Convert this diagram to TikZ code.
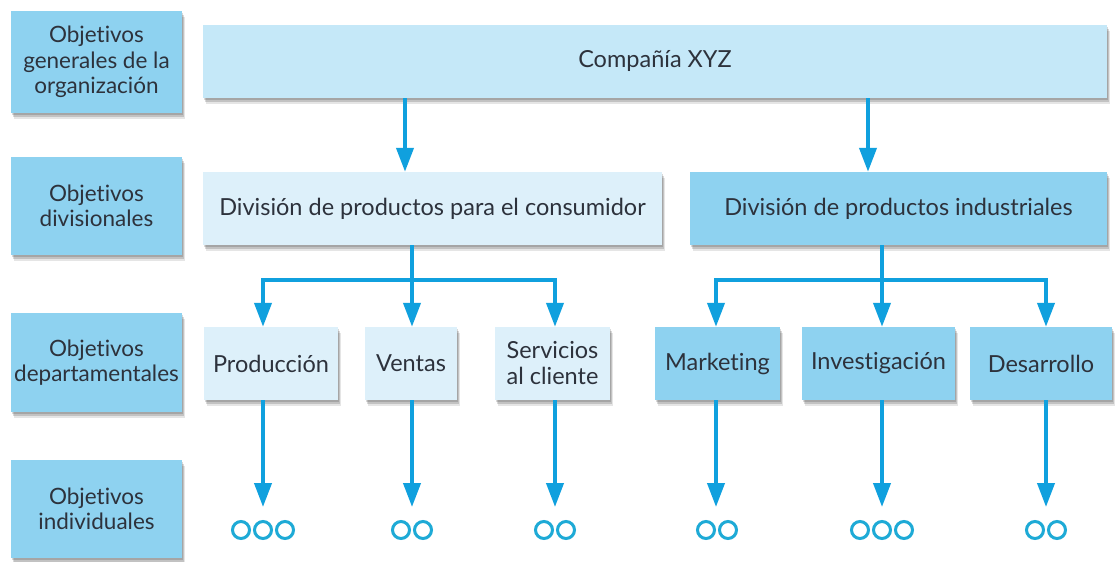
\documentclass[tikz,border=0pt]{standalone}
\usepackage{fontspec}
\setmainfont{Lato}[Ligatures={NoCommon}]
\usetikzlibrary{arrows.meta,shadows}
\definecolor{darkbox}{RGB}{142,210,240}
\definecolor{midbox}{RGB}{197,232,248}
\definecolor{lightbox}{RGB}{221,240,250}
\definecolor{arrowblue}{RGB}{16,160,222}
\definecolor{ringblue}{RGB}{30,170,214}
\definecolor{txt}{RGB}{45,50,60}
\begin{document}
\begin{tikzpicture}[x=1pt,y=-1pt,
  box/.style={rectangle, inner sep=0pt, align=center, text=txt,
    font=\fontsize{23.5}{26}\selectfont,
    drop shadow={shadow xshift=1pt, shadow yshift=-2pt, fill=black, opacity=0.15},
    drop shadow={shadow xshift=2pt, shadow yshift=-4pt, fill=black, opacity=0.15},
    drop shadow={shadow xshift=3pt, shadow yshift=-6pt, fill=black, opacity=0.10}},
  lab/.style={box, fill=darkbox, minimum width=171pt, font=\fontsize{22.5}{25.5}\selectfont},
  dbox/.style={box, fill=darkbox, minimum height=73pt},
  mbox/.style={box, fill=midbox, minimum height=73pt},
  lbox/.style={box, fill=lightbox, minimum height=73pt},
  arr/.style={draw=arrowblue, line width=4pt, -{Triangle[length=24pt, width=17pt]}},
  ln/.style={draw=arrowblue, line width=4pt},
  ring/.style={circle, draw=ringblue, line width=3pt, minimum size=17pt, inner sep=0pt}]
\useasboundingbox[fill=white] (0,0) rectangle (1117,562);

% left labels
\node[lab, minimum height=102pt] (l1) at (96.5,62) {Objetivos\\generales de la\\organización};
\node[lab, minimum height=98pt] (l2) at (96.5,206) {Objetivos\\divisionales};
\node[lab, minimum height=99pt] (l3) at (96.5,362.5) {Objetivos\\departamentales};
\node[lab, minimum height=98pt] (l4) at (96.5,509) {Objetivos\\individuales};

% main boxes
\node[mbox, minimum width=904pt] (comp) at (655,61.5) {Compañía XYZ};
\node[lbox, minimum width=459pt] (divc) at (432.5,208.5) {División de productos para el consumidor};
\node[dbox, minimum width=417pt] (divi) at (898.5,208.5) {División de productos industriales};

\node[lbox, minimum width=134pt] (prod) at (271,363.5) {Producción};
\node[lbox, minimum width=92pt] (vent) at (411,363.5) {Ventas};
\node[lbox, minimum width=115pt] (serv) at (552.5,363.5) {Servicios\\al cliente};
\node[dbox, minimum width=125pt] (mark) at (717.5,363.5) {Marketing};
\node[dbox, minimum width=153pt] (inv) at (878.5,363.5) {Investigación};
\node[dbox, minimum width=142pt] (des) at (1041,363.5) {Desarrollo};

% column coordinates
\coordinate (xa) at (405,0);
\coordinate (xb) at (868,0);
\coordinate (xc) at (412,0);
\coordinate (xd) at (882,0);
\coordinate (bc) at (0,280);
\coordinate (cp) at (263,0);
\coordinate (cv) at (412,0);
\coordinate (cs) at (555,0);
\coordinate (cm) at (716,0);
\coordinate (ci) at (882,0);
\coordinate (cd) at (1046,0);
\coordinate (ty) at (0,507);

% rings
\foreach \n/\x in {r1/241,r2/263,r3/285,r4/401,r5/423,r6/544,r7/566,r8/706,r9/728,r10/860,r11/882,r12/904,r13/1035,r14/1057}
  \node[ring] (\n) at (\x,530) {};

% top arrows
\draw[arr] (comp.south -| xa) -- (divc.north -| xa);
\draw[arr] (comp.south -| xb) -- (divi.north -| xb);

% consumer branch
\draw[ln] (divc.south -| xc) -- (bc -| xc);
\draw[ln] (bc -| cp) -- (bc -| cs);
\draw[arr] ([yshift=2pt]bc -| cp) -- (prod.north -| cp);
\draw[arr] ([yshift=2pt]bc -| cv) -- (vent.north -| cv);
\draw[arr] ([yshift=2pt]bc -| cs) -- (serv.north -| cs);

% industrial branch
\draw[ln] (divi.south -| xd) -- (bc -| xd);
\draw[ln] (bc -| cm) -- (bc -| cd);
\draw[arr] ([yshift=2pt]bc -| cm) -- (mark.north -| cm);
\draw[arr] ([yshift=2pt]bc -| ci) -- (inv.north -| ci);
\draw[arr] ([yshift=2pt]bc -| cd) -- (des.north -| cd);

% down to individuals
\draw[arr] (prod.south -| cp) -- (ty -| cp);
\draw[arr] (vent.south -| cv) -- (ty -| cv);
\draw[arr] (serv.south -| cs) -- (ty -| cs);
\draw[arr] (mark.south -| cm) -- (ty -| cm);
\draw[arr] (inv.south -| ci) -- (ty -| ci);
\draw[arr] (des.south -| cd) -- (ty -| cd);
\end{tikzpicture}
\end{document}
